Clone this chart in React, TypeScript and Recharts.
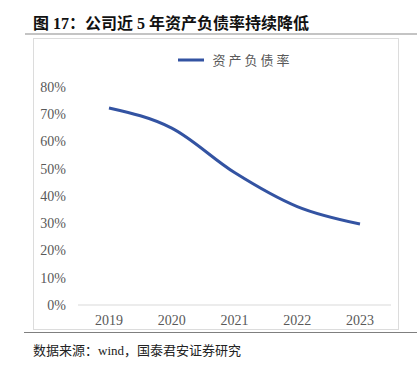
import { Legend, Line, LineChart, XAxis, YAxis } from "recharts";

const YEARS = ["2019", "2020", "2021", "2022", "2023"];
const DEBT_RATIO = [72.3, 64.9, 48.6, 36.1, 29.7];
const Y_TICKS = [0, 10, 20, 30, 40, 50, 60, 70, 80];

const LINE_COLOR = "#3353a2";
const SERIF = '"Liberation Serif", "Times New Roman", "Noto Sans CJK SC", serif';
const CJK = '"Liberation Serif", "Noto Sans CJK SC", serif';

const data = YEARS.map((year, i) => ({ year, ratio: DEBT_RATIO[i] }));

function LegendContent() {
  return (
    <div style={{ display: "flex", alignItems: "center", justifyContent: "center", paddingLeft: 50 }}>
      <svg width={30} height={8}>
        <line x1={1} y1={4} x2={27} y2={4} stroke={LINE_COLOR} strokeWidth={3} />
      </svg>
      <span style={{ fontFamily: CJK, fontSize: 13, color: "#595959", letterSpacing: 3, marginLeft: 5 }}>
        资产负债率
      </span>
    </div>
  );
}

export default function App() {
  return (
    <div style={{ position: "absolute", left: 0, top: 0, width: 420, height: 369, background: "#fff" }}>
      <div
        style={{
          position: "absolute",
          left: 33,
          top: 10,
          fontFamily: CJK,
          fontWeight: "bold",
          fontSize: 16,
          color: "#111",
          whiteSpace: "nowrap",
        }}
      >
        图 17：公司近 5 年资产负债率持续降低
      </div>
      <div style={{ position: "absolute", left: 25, top: 33, width: 392, height: 2, background: "#c4c4c4" }} />
      <div
        style={{
          position: "absolute",
          left: 33,
          top: 38,
          width: 364,
          height: 290,
          border: "1px solid #dcdcdc",
        }}
      />
      <div style={{ position: "absolute", left: 0, top: 0 }}>
        <LineChart width={420} height={369} data={data} margin={{ top: 68, right: 29, left: 33, bottom: 34 }}>
          <XAxis
            dataKey="year"
            axisLine={{ stroke: "#d9d9d9" }}
            tickLine={false}
            padding={{ left: 31, right: 31 }}
            tick={{ fontFamily: SERIF, fontSize: 14, fill: "#595959" }}
            tickMargin={4}
            height={30}
          />
          <YAxis
            domain={[0, 80]}
            ticks={Y_TICKS}
            tickFormatter={(v) => `${v}%`}
            axisLine={false}
            tickLine={false}
            tickMargin={6}
            width={45}
            tick={{ fontFamily: SERIF, fontSize: 14, fill: "#595959" }}
          />
          <Legend
            verticalAlign="top"
            content={<LegendContent />}
            wrapperStyle={{ top: 50, left: 0, width: 420 }}
          />
          <Line
            type="monotone"
            dataKey="ratio"
            stroke={LINE_COLOR}
            strokeWidth={3}
            dot={false}
            isAnimationActive={false}
          />
        </LineChart>
      </div>
      <div style={{ position: "absolute", left: 24, top: 332, width: 393, height: 1, background: "#7f7f7f" }} />
      <div
        style={{
          position: "absolute",
          left: 33,
          top: 340,
          fontFamily: CJK,
          fontSize: 13,
          color: "#222",
          whiteSpace: "nowrap",
        }}
      >
        数据来源：wind，国泰君安证券研究
      </div>
    </div>
  );
}
